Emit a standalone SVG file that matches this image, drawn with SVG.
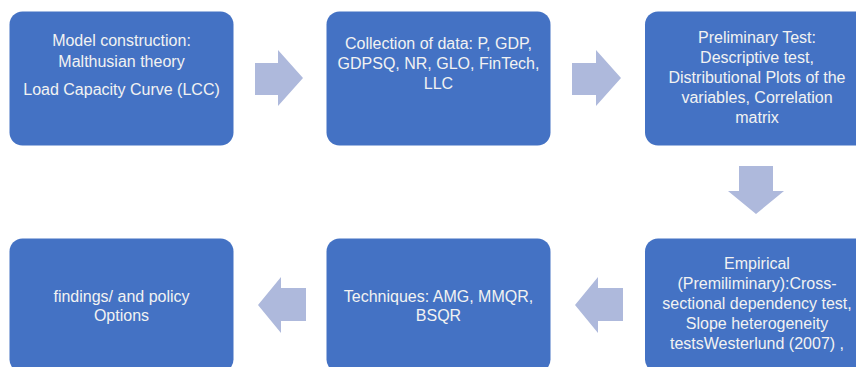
<svg xmlns="http://www.w3.org/2000/svg" width="856" height="367" viewBox="0 0 856 367">
  <style>
    .box { fill: #4472C4; }
    .t { font-family: "Liberation Sans", Arial, sans-serif; font-size: 16px; fill: #F2F2F2; text-anchor: middle; }
    .arr { fill: #AEB9DC; }
  </style>
  <rect width="856" height="367" fill="#FFFFFF"/>
  <g id="node1">
    <rect class="box" x="9.5" y="11.5" width="224" height="134" rx="13"/>
    <text class="t" x="121.5" y="46">Model construction:</text>
    <text class="t" x="121.5" y="67">Malthusian theory</text>
    <text class="t" x="121.5" y="95">Load Capacity Curve (LCC)</text>
  </g>
  <g id="node2">
    <rect class="box" x="326.5" y="11.5" width="224" height="134" rx="13"/>
    <text class="t" x="438.5" y="49">Collection of data: P, GDP,</text>
    <text class="t" x="438.5" y="69">GDPSQ, NR, GLO, FinTech,</text>
    <text class="t" x="438.5" y="89">LLC</text>
  </g>
  <g id="node3">
    <rect class="box" x="645" y="11.5" width="224" height="134" rx="13"/>
    <text class="t" x="757" y="43">Preliminary Test:</text>
    <text class="t" x="757" y="63">Descriptive test,</text>
    <text class="t" x="757" y="83">Distributional Plots of the</text>
    <text class="t" x="757" y="103">variables, Correlation</text>
    <text class="t" x="757" y="123">matrix</text>
  </g>
  <g id="node4">
    <rect class="box" x="645" y="238.5" width="224" height="134" rx="13"/>
    <text class="t" x="757" y="269">Empirical</text>
    <text class="t" x="757" y="289">(Premiliminary):Cross-</text>
    <text class="t" x="757" y="309">sectional dependency test,</text>
    <text class="t" x="757" y="329">Slope heterogeneity</text>
    <text class="t" x="757" y="349">testsWesterlund (2007) ,</text>
  </g>
  <g id="node5">
    <rect class="box" x="326.5" y="238.5" width="224" height="134" rx="13"/>
    <text class="t" x="438.5" y="302">Techniques: AMG, MMQR,</text>
    <text class="t" x="438.5" y="321">BSQR</text>
  </g>
  <g id="node6">
    <rect class="box" x="9.5" y="238.5" width="224" height="134" rx="13"/>
    <text class="t" x="121.5" y="302">findings/ and policy</text>
    <text class="t" x="121.5" y="321">Options</text>
  </g>
  <g id="connectors">
    <polygon class="arr" points="255,63 278,63 278,50 303,78 278,106 278,95 255,95"/>
    <polygon class="arr" points="572,63 596,63 596,50 621,78 596,106 596,95 572,95"/>
    <polygon class="arr" points="739,166 773,166 773,191 784,191 756,214 728,191 739,191"/>
    <polygon class="arr" points="623,288 598,288 598,277 575,305 598,333 598,321 623,321"/>
    <polygon class="arr" points="306,288 281,288 281,277 258,305 281,333 281,321 306,321"/>
  </g>
</svg>
